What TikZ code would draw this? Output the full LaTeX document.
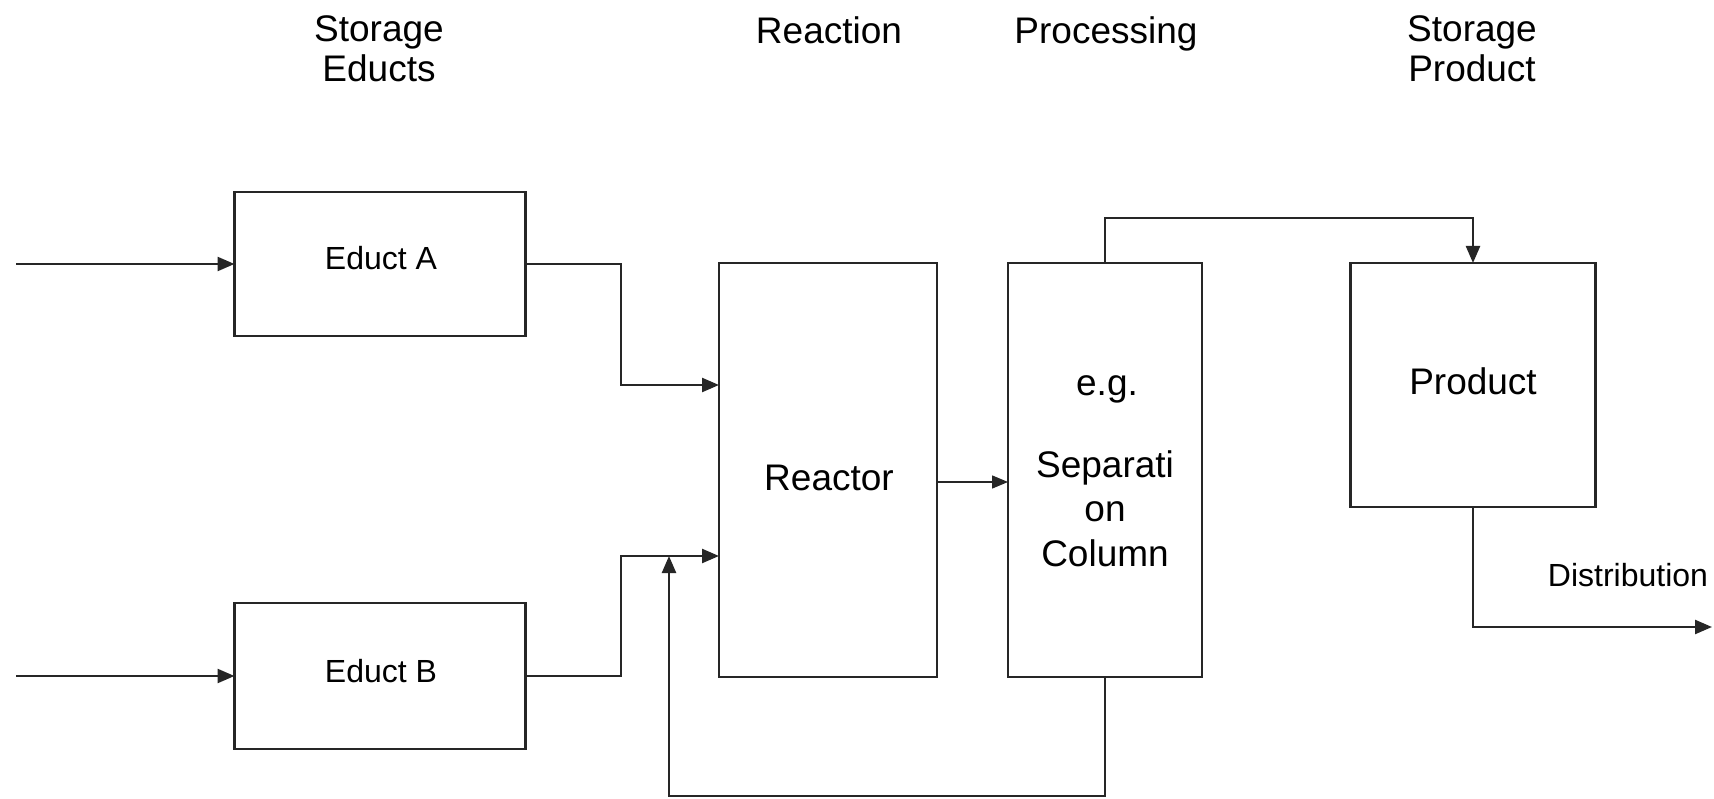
\documentclass[tikz,border=0pt]{standalone}
\usepackage{fontspec}
\setmainfont{Liberation Sans}
\usetikzlibrary{arrows.meta}
\begin{document}
\begin{tikzpicture}[x=1pt,y=-1pt,
  box/.style={draw=black!85,line width=2.4pt,inner sep=0pt,outer sep=0pt},
  big/.style={font=\fontsize{37}{44}\selectfont,inner sep=0pt,anchor=base},
  small/.style={font=\fontsize{32}{38}\selectfont,inner sep=0pt,anchor=base},
  conn/.style={draw=black!85,line width=2.4pt,-{Triangle[length=17pt,width=14pt]}},
  connthin/.style={draw=black!85,line width=1.5pt,-{Triangle[length=16pt,width=13pt]}}]
\useasboundingbox (0,0) rectangle (1714,799);
\fill[white] (0,0) rectangle (1714,799);
% headers
\node[big] (h1a) at (379,42) {Storage};
\node[big] (h1b) at (379,82) {Educts};
\node[big] (h2) at (829,44) {Reaction};
\node[big] (h3) at (1106,44) {Processing};
\node[big] (h4a) at (1472,42) {Storage};
\node[big] (h4b) at (1472,82) {Product};
% boxes
\node[box,minimum width=291pt,minimum height=144pt] (edA) at (380,264) {};
\node[box,minimum width=291pt,minimum height=146pt] (edB) at (380,676) {};
\node[box,minimum width=218pt,minimum height=414pt] (reac) at (828,470) {};
\node[box,minimum width=194pt,minimum height=414pt] (col) at (1105,470) {};
\node[box,minimum width=245pt,minimum height=244pt] (prod) at (1473,385) {};
% box texts
\node[small] (tA) at (381,270) {Educt A};
\node[small] (tB) at (381,682) {Educt B};
\node[big] (tR) at (829,490) {Reactor};
\node[big] (tE) at (1107,396) {e.g.};
\node[big] (tS1) at (1105,477) {Separati};
\node[big] (tS2) at (1105,521) {on};
\node[big] (tS3) at (1105,566) {Column};
\node[big] (tP) at (1473,395) {Product};
\node[small] (tD) at (1628,586) {Distribution};
% coordinates
\coordinate (inA) at (16,264);
\coordinate (inB) at (16,676);
\coordinate (kA) at (621,385);
\coordinate (kB) at (621,556);
\coordinate (rB) at (669,796);
\coordinate (m) at (937,482);
\coordinate (tp) at (1473,218);
\coordinate (dist) at (1712,627);
% connectors
\draw[conn] (inA) -- (edA.west);
\draw[conn] (inB) -- (edB.west);
\draw[conn] (edA.east) -| (kA) -- (kA -| reac.west);
\draw[conn] (edB.east) -| (kB) -- (kB -| reac.west);
\draw[conn] (col.south) |- (rB) -- (rB |- kB);
\draw[connthin] (m) -- (m -| col.west);
\draw[conn] (col.north) |- (tp) -- (prod.north);
\draw[conn] (prod.south) |- (dist);
\end{tikzpicture}
\end{document}
